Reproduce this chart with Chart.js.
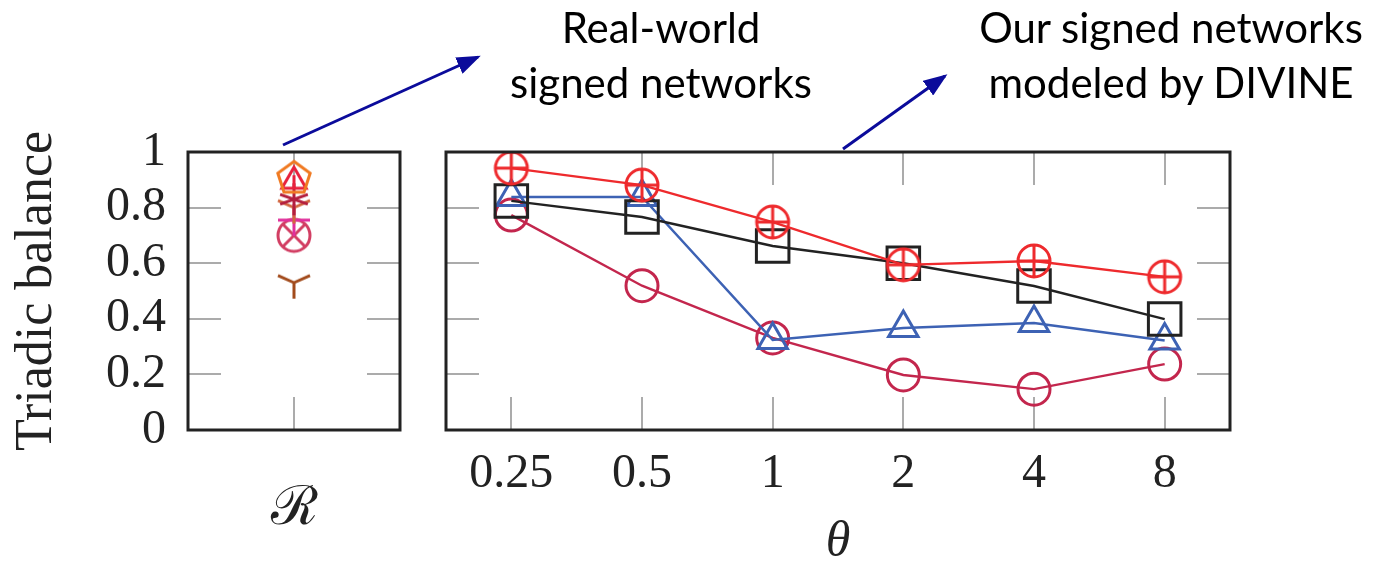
<!DOCTYPE html>
<html>
<head>
<meta charset="utf-8">
<script src="https://cdn.jsdelivr.net/npm/chart.js"></script>
<style>
    body { margin: 0; background: #fff; width: 1384px; height: 568px; position: relative; overflow: hidden; }
    #leftWrap { position: absolute; left: 0; top: 0; width: 420px; height: 568px; }
    #rightWrap { position: absolute; left: 420px; top: 0; width: 964px; height: 568px; }
    .note { position: absolute; top: 0; font-family: Lato, 'Open Sans', sans-serif; font-size: 42px; line-height: 55px; text-align: center; color: #000; }
    #arrows { position: absolute; left: 0; top: 0; }
</style>
</head>

<body>
    <div id="leftWrap"><canvas id="real" width="420" height="568"></canvas></div>
    <div id="rightWrap"><canvas id="divine" width="964" height="568"></canvas></div>

    <div class="note" style="left:461px; width:400px;">Real-world<br>signed networks</div>
    <div class="note" style="left:951px; width:440px;">Our signed networks<br>modeled by DIVINE</div>

    <svg id="arrows" width="1384" height="568">
        <defs>
            <marker id="head" markerWidth="8" markerHeight="6" refX="7" refY="3" orient="auto" markerUnits="strokeWidth">
                <polygon points="0 0, 8 3, 0 6" fill="#0b0b9b"></polygon>
            </marker>
        </defs>
        <line x1="283" y1="145" x2="478" y2="57" stroke="#0b0b9b" stroke-width="3" marker-end="url(#head)"></line>
        <line x1="843" y1="149" x2="945" y2="76" stroke="#0b0b9b" stroke-width="3" marker-end="url(#head)"></line>
    </svg>
</body>
</html>

<script>
    // y axis
    var yTickLabels = ['0', '0.2', '0.4', '0.6', '0.8', '1'];

    // left panel: real-world signed networks
    var realLabel = ['\u211B'];
    var realValues = [0.905, 0.895, 0.83, 0.80, 0.755, 0.70, 0.53];
    var realColors = ['#f07a22', '#e8213c', '#b31e3e', '#d2673f', '#e0309c', '#d23e63', '#a24b1c'];
    var realShapes = ['pentagon', 'triangle', 'asterisk', 'tri', 'plus', 'otimes', 'tri'];

    // right panel: networks modeled by DIVINE
    var thetaLabels = ['0.25', '0.5', '1', '2', '4', '8'];
    var oplusValues = [0.942, 0.881, 0.748, 0.594, 0.608, 0.551];
    var squareValues = [0.824, 0.766, 0.662, 0.600, 0.518, 0.399];
    var triangleValues = [0.838, 0.838, 0.324, 0.367, 0.385, 0.322];
    var circleValues = [0.773, 0.519, 0.331, 0.198, 0.147, 0.237];

    var tickFont = { family: "'Liberation Serif', serif", size: 48 };

    function marker(shape, color) {
        var size = 44;
        var c = document.createElement('canvas');
        c.width = size;
        c.height = size;
        var g = c.getContext('2d');
        g.translate(size / 2, size / 2);
        g.strokeStyle = color;
        g.lineWidth = 3;
        g.lineJoin = 'miter';
        var r = 16, i, a;
        g.beginPath();
        if (shape === 'pentagon') {
            for (i = 0; i < 5; ++i) {
                a = -Math.PI / 2 + i * 2 * Math.PI / 5;
                g[i ? 'lineTo' : 'moveTo'](Math.cos(a) * 17, Math.sin(a) * 17);
            }
            g.closePath();
        } else if (shape === 'triangle') {
            for (i = 0; i < 3; ++i) {
                a = -Math.PI / 2 + i * 2 * Math.PI / 3;
                g[i ? 'lineTo' : 'moveTo'](Math.cos(a) * 14, Math.sin(a) * 14);
            }
            g.closePath();
            g.moveTo(0, -6); g.lineTo(0, 6);
        } else if (shape === 'asterisk') {
            for (i = 0; i < 3; ++i) {
                a = Math.PI / 6 + i * Math.PI / 3;
                g.moveTo(Math.cos(a) * r, Math.sin(a) * r * 0.6);
                g.lineTo(-Math.cos(a) * r, -Math.sin(a) * r * 0.6);
            }
            g.moveTo(0, -r); g.lineTo(0, r);
        } else if (shape === 'tri') {
            g.moveTo(0, 0); g.lineTo(0, r);
            g.moveTo(0, 0); g.lineTo(-r, -r * 0.45);
            g.moveTo(0, 0); g.lineTo(r, -r * 0.45);
        } else if (shape === 'plus') {
            g.moveTo(-r, 0); g.lineTo(r, 0);
            g.moveTo(0, -r); g.lineTo(0, r);
        } else if (shape === 'otimes') {
            g.arc(0, 0, r, 0, 2 * Math.PI);
            g.moveTo(-r * 0.7, -r * 0.7); g.lineTo(r * 0.7, r * 0.7);
            g.moveTo(r * 0.7, -r * 0.7); g.lineTo(-r * 0.7, r * 0.7);
        } else if (shape === 'oplus') {
            g.arc(0, 0, r, 0, 2 * Math.PI);
            g.moveTo(-r, 0); g.lineTo(r, 0);
            g.moveTo(0, -r); g.lineTo(0, r);
        }
        g.stroke();
        return c;
    }

    // inward pgfplots-like ticks and the frame
    var frame = {
        id: 'frame',
        beforeDatasetsDraw: function (chart) {
            var ctx = chart.ctx, a = chart.chartArea;
            var x = chart.scales.x, y = chart.scales.y;
            var len = 33;
            ctx.save();
            ctx.strokeStyle = '#ababab';
            ctx.lineWidth = 2;
            ctx.beginPath();
            y.ticks.forEach(function (t) {
                if (t.value <= 0.001 || t.value >= 0.999) return;
                var py = Math.round(y.getPixelForValue(t.value));
                ctx.moveTo(a.left, py); ctx.lineTo(a.left + len, py);
                ctx.moveTo(a.right, py); ctx.lineTo(a.right - len, py);
            });
            x.ticks.forEach(function (t, i) {
                var px = Math.round(x.getPixelForTick(i));
                ctx.moveTo(px, a.top); ctx.lineTo(px, a.top + len);
                ctx.moveTo(px, a.bottom); ctx.lineTo(px, a.bottom - len);
            });
            ctx.stroke();
            ctx.restore();
        },
        afterDraw: function (chart) {
            var ctx = chart.ctx, a = chart.chartArea;
            ctx.save();
            ctx.strokeStyle = '#222';
            ctx.lineWidth = 3;
            ctx.strokeRect(a.left, a.top, a.width, a.height);
            ctx.restore();
        }
    };

    var realSets = realValues.map(function (v, i) {
        return {
            data: [v],
            showLine: false,
            pointStyle: marker(realShapes[i], realColors[i]),
            pointRadius: 16,
        };
    });

    new Chart('real', {
        type: 'line',
        data: { labels: realLabel, datasets: realSets },
        plugins: [frame],
        options: {
            responsive: false,
            animation: false,
            layout: { padding: { top: 152, right: 20, left: 0, bottom: 0 } },
            plugins: { legend: { display: false }, tooltip: { enabled: false } },
            scales: {
                x: {
                    offset: true,
                    grid: { display: false, drawTicks: false },
                    border: { display: false },
                    ticks: { color: '#222', padding: 48, font: { family: "'DejaVu Serif', serif", size: 54 } },
                    afterFit: function (s) { s.height = 138; }
                },
                y: {
                    min: 0,
                    max: 1,
                    grid: { display: false, drawTicks: false },
                    border: { display: false },
                    ticks: {
                        stepSize: 0.2,
                        autoSkip: false,
                        color: '#222',
                        padding: 22,
                        font: tickFont,
                        callback: function (v, i) { return yTickLabels[i]; }
                    },
                    title: {
                        display: true,
                        text: 'Triadic balance',
                        color: '#222',
                        font: { family: "'Liberation Serif', serif", size: 52, lineHeight: 1 },
                        padding: { top: 11, bottom: 0 }
                    },
                    afterFit: function (s) { s.width = 188; }
                }
            }
        }
    });

    function series(values, color, style, radius, width) {
        return {
            data: values,
            borderColor: color,
            borderWidth: 2.4,
            backgroundColor: 'transparent',
            pointStyle: style,
            pointRadius: radius,
            pointBorderColor: color,
            pointBorderWidth: width,
            pointBackgroundColor: 'transparent',
            tension: 0,
            fill: false,
        };
    }

    new Chart('divine', {
        type: 'line',
        data: {
            labels: thetaLabels,
            datasets: [
                series(oplusValues, '#ee2a2d', marker('oplus', '#ee2a2d'), 16, 3),
                series(squareValues, '#222222', 'rect', 23, 3),
                series(triangleValues, '#3d62b4', 'triangle', 17, 3),
                series(circleValues, '#c3264d', 'circle', 16, 3),
            ]
        },
        plugins: [frame],
        options: {
            responsive: false,
            animation: false,
            layout: { padding: { top: 152, right: 154, left: 0, bottom: 0 } },
            plugins: { legend: { display: false }, tooltip: { enabled: false } },
            scales: {
                x: {
                    offset: true,
                    grid: { display: false, drawTicks: false },
                    border: { display: false },
                    ticks: { color: '#222', padding: 16, font: tickFont, maxRotation: 0, autoSkip: false },
                    title: {
                        display: true,
                        text: '\u03B8',
                        color: '#222',
                        font: { family: "'Liberation Serif', serif", size: 50, style: 'italic', lineHeight: 1 },
                        padding: 0
                    },
                    afterFit: function (s) { s.height = 138; }
                },
                y: {
                    min: 0,
                    max: 1,
                    grid: { display: false, drawTicks: false },
                    border: { display: false },
                    ticks: { stepSize: 0.2, display: false },
                    afterFit: function (s) { s.width = 26; }
                }
            }
        }
    });
</script>
